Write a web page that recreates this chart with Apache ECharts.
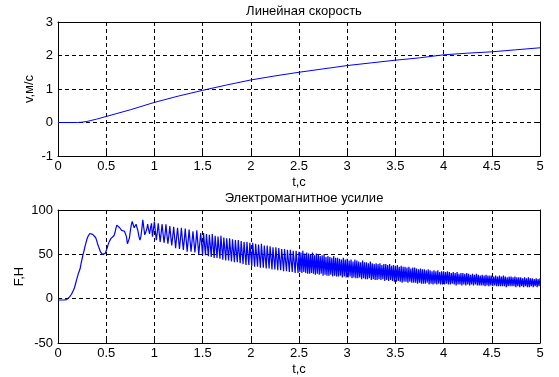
<!DOCTYPE html>
<html>
<head>
<meta charset="utf-8">
<script src="https://cdn.jsdelivr.net/npm/echarts@6/dist/echarts.min.js"></script>
<style>
html, body { margin: 0; padding: 0; background: #fff; }
#main { width: 559px; height: 377px; }
</style>
</head>
<body>
<div id="main"></div>
<script>
// linear speed, v (m/s) at times t (s)
const speedTime = [0, 0.1, 0.2, 0.25, 0.3, 0.4, 0.5, 0.75, 1.0, 1.25, 1.5, 1.75, 2.0, 2.25, 2.5, 2.75, 3.0, 3.25, 3.5, 3.75, 4.0, 4.25, 4.5, 4.75, 5.0];
const speedValue = [0, 0, 0, 0.01, 0.03, 0.1, 0.18, 0.38, 0.6, 0.79, 0.96, 1.12, 1.27, 1.39, 1.5, 1.6, 1.7, 1.78, 1.86, 1.93, 2.02, 2.07, 2.11, 2.17, 2.23];

// electromagnetic force F (H), sampled every 0.01 s from t = 0 to 5
const forceStep = 0.01;
const forceValue = [
  -1.5, -1.5, -1.5, -1.5, -1.5, -1.5, -1.5, -1.5, -1.3, -1,
  0, 1, 2, 3.5, 5, 7, 9.5, 12, 16, 20,
  24, 28, 31, 34, 40, 45, 50, 54, 59, 63,
  67, 70, 72, 73.5, 73.5, 73, 72.5, 72, 71, 69,
  66, 62, 59, 56, 53, 51, 50, 50, 50, 51,
  54, 57, 61, 64, 66, 68, 69, 69.5, 71, 74,
  79, 83, 84, 82, 80, 78, 77, 77, 77, 76,
  76, 70, 62, 61, 68, 76, 83, 87, 85, 80,
  79, 84, 80, 76, 70, 66, 70, 79, 89, 80,
  72, 71, 78, 84, 78, 73, 80, 85, 70, 78,
  87, 76, 66, 75, 85, 74, 64, 74, 84, 73,
  63, 72, 84, 72, 62, 71, 82, 70, 60, 70,
  81, 69, 57, 69, 80, 68, 56, 67, 80, 67,
  55, 66, 79, 66, 53, 65, 78, 65, 53, 64,
  76, 64, 52, 63, 77, 63, 50, 62, 74, 62,
  49, 74, 61, 49, 73, 60, 48, 72, 60, 47,
  73, 59, 46, 71, 58, 46, 70, 57, 45, 71,
  57, 44, 69, 56, 43, 68, 55, 43, 68, 54,
  42, 67, 54, 41, 66, 53, 41, 66, 52, 40,
  65, 52, 39, 64, 51, 38, 64, 50, 38, 63,
  50, 37, 63, 49, 36, 62, 49, 36, 61, 48,
  35, 62, 48, 35, 60, 47, 34, 60, 47, 34,
  59, 46, 33, 58, 45, 33, 58, 45, 32, 57,
  44, 32, 56, 44, 31, 56, 43, 31, 55, 43,
  30, 55, 42, 30, 54, 42, 29, 54, 41, 29,
  53, 30, 52, 29, 54, 30, 51, 29, 52, 28,
  51, 28, 50, 29, 52, 28, 49, 27, 51, 28,
  50, 27, 48, 28, 49, 26, 50, 27, 47, 26,
  48, 26, 47, 27, 46, 25, 48, 26, 46, 25,
  46, 25, 45, 26, 44, 24, 46, 25, 44, 24,
  45, 24, 43, 25, 44, 23, 42, 24, 44, 23,
  43, 23, 42, 24, 41, 22, 43, 23, 41, 22,
  41, 22, 40, 23, 42, 21, 40, 22, 39, 21,
  40, 21, 39, 22, 40, 21, 38, 22, 39, 20,
  39, 21, 38, 20, 39, 21, 37, 20, 38, 19,
  37, 19, 38, 20, 36, 19, 37, 18, 36, 19,
  36, 19, 35, 18, 36, 19, 34, 18, 35, 18,
  35, 18, 34, 17, 33, 18, 34, 17, 33, 17,
  33, 17, 32, 18, 33, 16, 32, 17, 31, 16,
  32, 17, 31, 16, 32, 17, 30, 16, 31, 16,
  31, 16, 30, 17, 31, 16, 30, 16, 29, 17,
  30, 16, 29, 15, 30, 16, 28, 16, 29, 15,
  29, 16, 28, 15, 29, 16, 28, 15, 27, 16,
  28, 15, 27, 16, 28, 15, 27, 15, 26, 15,
  27, 15, 26, 14, 27, 15, 26, 14, 26, 15,
  26, 14, 25, 15, 26, 14, 25, 14, 26, 14,
  25, 14, 26, 14, 25, 13, 24, 14, 25, 14,
  25, 14, 24, 14, 25, 13, 24, 14, 24, 13,
  24, 14, 23, 13, 24, 14, 23, 13, 24, 13,
  23, 14, 23, 13, 22, 14, 23, 13, 22, 14,
  23
];

const titles = ['Линейная скорость', 'Электромагнитное усилие'];
const xName = 't,c';
const yNames = ['v,м/с', 'F,H'];

const font = '"Liberation Sans", Arial, sans-serif';
const fontSize = 13;
const black = '#000';

function mainX(gridIndex) {
  return {
    type: 'value', gridIndex: gridIndex, min: 0, max: 5, interval: 0.5,
    name: xName, nameLocation: 'middle', nameGap: 20,
    nameTextStyle: { color: black, fontFamily: font, fontSize: fontSize },
    axisLine: { show: true, onZero: false, lineStyle: { color: black, width: 1 } },
    axisTick: { show: true, inside: true, length: 4, lineStyle: { color: black } },
    axisLabel: { color: black, fontFamily: font, fontSize: fontSize, margin: 4 },
    splitLine: { show: true, lineStyle: { color: black, type: [4, 3], width: 1 } }
  };
}
function boxX(gridIndex) {
  return {
    type: 'value', gridIndex: gridIndex, min: 0, max: 5, interval: 0.5, position: 'top',
    axisLine: { show: true, onZero: false, lineStyle: { color: black, width: 1 } },
    axisTick: { show: true, inside: true, length: 4, lineStyle: { color: black } },
    axisLabel: { show: false }, splitLine: { show: false }
  };
}
function mainY(gridIndex, min, max, interval, nameGap) {
  return {
    type: 'value', gridIndex: gridIndex, min: min, max: max, interval: interval,
    name: yNames[gridIndex], nameLocation: 'middle', nameRotate: 90, nameGap: nameGap,
    nameMoveOverlap: false,
    nameTextStyle: { color: black, fontFamily: font, fontSize: fontSize },
    axisLine: { show: true, onZero: false, lineStyle: { color: black, width: 1 } },
    axisTick: { show: true, inside: true, length: 4, lineStyle: { color: black } },
    axisLabel: { color: black, fontFamily: font, fontSize: fontSize, margin: 5 },
    splitLine: { show: true, lineStyle: { color: black, type: [4, 3], width: 1 } }
  };
}
function boxY(gridIndex, min, max, interval) {
  return {
    type: 'value', gridIndex: gridIndex, min: min, max: max, interval: interval, position: 'right',
    axisLine: { show: true, onZero: false, lineStyle: { color: black, width: 1 } },
    axisTick: { show: true, inside: true, length: 4, lineStyle: { color: black } },
    axisLabel: { show: false }, splitLine: { show: false }
  };
}

const speedData = speedTime.map((t, i) => [t, speedValue[i]]);
const forceData = forceValue.map((v, i) => [+(i * forceStep).toFixed(2), v]);

let myChart = echarts.init(document.getElementById('main'));
myChart.setOption({
    animation: false,
    backgroundColor: '#fff',
    title: [
        { text: titles[0], left: 299, top: 0, textAlign: 'center',
          textStyle: { color: black, fontFamily: font, fontSize: fontSize, fontWeight: 'normal' } },
        { text: titles[1], left: 299, top: 187, textAlign: 'center',
          textStyle: { color: black, fontFamily: font, fontSize: fontSize, fontWeight: 'normal' } }
    ],
    grid: [
        { left: 58, top: 22, width: 482, height: 134 },
        { left: 58, top: 210, width: 482, height: 134 }
    ],
    xAxis: [mainX(0), mainX(1), boxX(0), boxX(1)],
    yAxis: [mainY(0, -1, 3, 1, 22), mainY(1, -50, 100, 50, 32), boxY(0, -1, 3, 1), boxY(1, -50, 100, 50)],
    series: [{
        type: 'line', xAxisIndex: 0, yAxisIndex: 0,
        data: speedData, showSymbol: false, smooth: false,
        lineStyle: { color: '#0000ff', width: 1 }
    }, {
        type: 'line', xAxisIndex: 1, yAxisIndex: 1,
        data: forceData, showSymbol: false,
        lineStyle: { color: '#0000ff', width: 1.2 }
    }]
});
</script>
</body>
</html>
